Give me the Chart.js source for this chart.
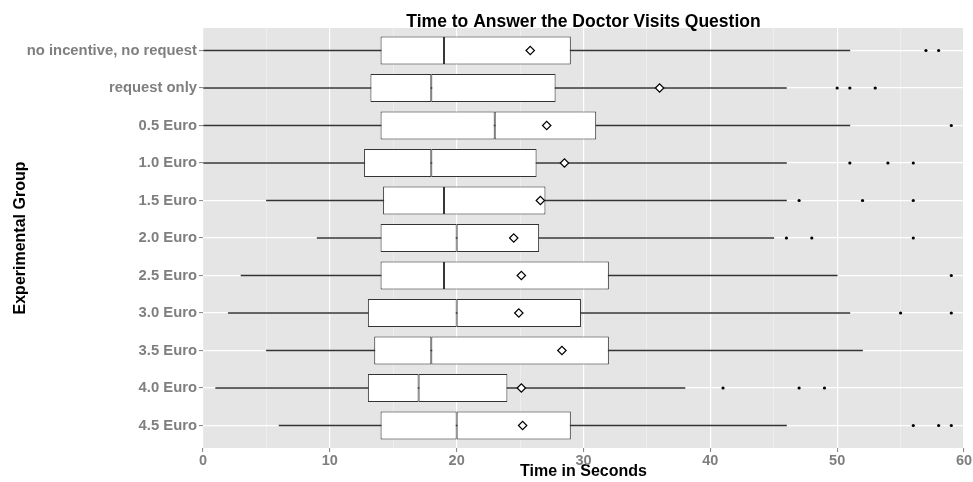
<!DOCTYPE html>
<html>
<head>
<meta charset="utf-8">
<script src="https://cdn.jsdelivr.net/npm/chart.js@4/dist/chart.umd.min.js"></script>
<style>
  html, body { margin: 0; padding: 0; background: #ffffff; }
  canvas { display: block; }
</style>
</head>
<body>
<canvas id="chart" width="973" height="482"></canvas>
<script>
// Response times (seconds) per experimental group: box-plot summaries
const groups = ['no incentive, no request', 'request only', '0.5 Euro', '1.0 Euro', '1.5 Euro',
                '2.0 Euro', '2.5 Euro', '3.0 Euro', '3.5 Euro', '4.0 Euro', '4.5 Euro'];
const whiskerLow  = [0, 0, 0, 0, 5, 9, 3, 2, 5, 1, 6];
const q1          = [14, 13.2, 14, 12.7, 14.2, 14, 14, 13, 13.5, 13, 14];
const median      = [19, 18, 23, 18, 19, 20, 19, 20, 18, 17, 20];
const q3          = [29, 27.8, 31, 26.3, 27, 26.5, 32, 29.8, 32, 24, 29];
const whiskerHigh = [51, 46, 51, 46, 46, 45, 50, 51, 52, 38, 46];
const means       = [25.8, 36, 27.1, 28.5, 26.6, 24.5, 25.1, 24.9, 28.3, 25.1, 25.2];
const outliers    = [[57, 58], [50, 51, 53], [59], [51, 54, 56], [47, 52, 56], [46, 48, 56],
                     [59], [55, 59], [], [41, 47, 49], [56, 58, 59]];
const xMajorTicks = [0, 10, 20, 30, 40, 50, 60];
const xMinorTicks = [5, 15, 25, 35, 45, 55];

const chartTitle = 'Time to Answer the Doctor Visits Question';
const FONT = '"Liberation Sans", Arial, Helvetica, sans-serif';
Chart.defaults.font.family = FONT;

const idx = groups.map((_, i) => i);

const boxStyle = {
  type: 'bar', indexAxis: 'y', grouped: false,
  categoryPercentage: 1, barPercentage: 0.75,
  backgroundColor: '#FFFFFF', borderColor: '#333333', borderWidth: 1,
  borderSkipped: false, order: 2
};

// grey panel behind the plot area
const panelBackground = {
  id: 'panelBackground',
  beforeDraw(chart) {
    const { ctx, chartArea: a } = chart;
    ctx.save();
    ctx.fillStyle = '#E5E5E5';
    ctx.fillRect(a.left, a.top, a.right - a.left, a.bottom - a.top);
    ctx.restore();
  }
};

// title centred over the panel
const panelTitle = {
  id: 'panelTitle',
  afterDraw(chart) {
    const { ctx, chartArea: a } = chart;
    ctx.save();
    ctx.font = 'bold 17.5px ' + FONT;
    ctx.fillStyle = '#000000';
    ctx.textAlign = 'center';
    ctx.textBaseline = 'alphabetic';
    ctx.fillText(chartTitle, (a.left + a.right) / 2, 26.5);
    ctx.restore();
  }
};

const isMajor = v => xMajorTicks.includes(v);

new Chart(document.getElementById('chart'), {
  type: 'bar',
  data: {
    datasets: [
      { ...boxStyle, label: 'Q1 to median', data: idx.map(i => ({ y: i, x: [q1[i], median[i]] })) },
      { ...boxStyle, label: 'median to Q3', data: idx.map(i => ({ y: i, x: [median[i], q3[i]] })) },
      {
        type: 'bar', indexAxis: 'y', grouped: false, label: 'whiskers',
        barThickness: 1, backgroundColor: '#333333', borderWidth: 0, order: 3,
        data: idx.map(i => ({ y: i, x: [whiskerLow[i], whiskerHigh[i]] }))
      },
      {
        type: 'scatter', label: 'outliers', order: 1,
        data: outliers.flatMap((vals, i) => vals.map(v => ({ x: v, y: i }))),
        pointRadius: 1.6, backgroundColor: '#000000', borderWidth: 0
      },
      {
        type: 'scatter', label: 'mean', order: 0,
        data: idx.map(i => ({ x: means[i], y: i })),
        pointStyle: 'rectRot', pointRadius: 4.2,
        backgroundColor: '#FFFFFF', borderColor: '#000000', borderWidth: 1.2
      }
    ]
  },
  options: {
    responsive: false,
    animation: false,
    layout: { padding: { top: 28, right: 9, bottom: 0, left: 0 } },
    plugins: { legend: { display: false }, tooltip: { enabled: false }, title: { display: false } },
    scales: {
      x: {
        type: 'linear', position: 'bottom', min: 0, max: 60, offset: false,
        beginAtZero: false, grace: 0,
        afterBuildTicks: s => {
          s.ticks = [...xMajorTicks, ...xMinorTicks].sort((a, b) => a - b).map(v => ({ value: v }));
        },
        afterFit: s => { s.height = 34; },
        border: { display: false },
        grid: {
          offset: false,
          color: c => (c.tick && isMajor(c.tick.value)) ? '#FFFFFF' : '#F2F2F2',
          lineWidth: c => (c.tick && isMajor(c.tick.value)) ? 1.2 : 0.7,
          tickColor: c => (c.tick && isMajor(c.tick.value)) ? '#7F7F7F' : 'rgba(0,0,0,0)',
          tickLength: 4, tickWidth: 1
        },
        ticks: {
          color: '#7F7F7F', padding: 0, maxRotation: 0, autoSkip: false,
          font: { size: 14.5, weight: 'bold' },
          callback: v => isMajor(v) ? String(v) : ''
        },
        title: {
          display: true, text: 'Time in Seconds', color: '#000000',
          font: { size: 16, weight: 'bold' }, padding: { top: 0, bottom: 1 }
        }
      },
      y: {
        type: 'linear', reverse: true, min: -0.6, max: 10.6, offset: false,
        beginAtZero: false, grace: 0,
        afterBuildTicks: s => { s.ticks = idx.map(i => ({ value: i })); },
        afterFit: s => { s.width = 203; },
        border: { display: false },
        grid: { offset: false, color: '#FFFFFF', lineWidth: 1.2, tickColor: '#7F7F7F', tickLength: 4, tickWidth: 1 },
        ticks: {
          color: '#7F7F7F', padding: 2, autoSkip: false,
          font: { size: 14.8, weight: 'bold' },
          callback: v => groups[v]
        },
        title: {
          display: true, text: 'Experimental Group', color: '#000000',
          font: { size: 16, weight: 'bold' }, padding: { top: 11, bottom: 0 }
        }
      }
    }
  },
  plugins: [panelBackground, panelTitle]
});
</script>
</body>
</html>
